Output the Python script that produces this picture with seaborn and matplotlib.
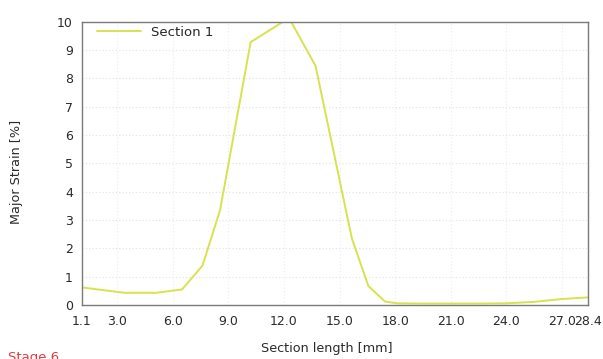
import matplotlib
matplotlib.use("Agg")
import matplotlib.pyplot as plt
import seaborn as sns
import pandas as pd

# Major strain profile along section 1
section_length = [1.1, 3.4, 5.1, 6.5, 7.6, 8.55, 10.2, 12.27, 13.7, 15.66,
                  16.55, 17.45, 18.1, 19.5, 21.0, 22.5, 24.0, 25.5, 27.0, 28.4]
major_strain = [0.62, 0.43, 0.43, 0.55, 1.39, 3.35, 9.28, 10.13, 8.44, 2.35,
                0.67, 0.12, 0.06, 0.05, 0.05, 0.05, 0.06, 0.11, 0.21, 0.27]
series_name = "Section 1"

x_ticks = [1.1, 3.0, 6.0, 9.0, 12.0, 15.0, 18.0, 21.0, 24.0, 27.0, 28.4]
x_tick_labels = ["1.1", "3.0", "6.0", "9.0", "12.0", "15.0", "18.0", "21.0", "24.0", "27.0", "28.4"]
y_ticks = list(range(0, 11))

df = pd.DataFrame({"Section length [mm]": section_length,
                   "Major Strain [%]": major_strain,
                   "series": series_name})

sns.set_theme(style="white")
plt.rcParams["font.family"] = ["DejaVu Sans"]

fig = plt.figure(figsize=(6.03, 3.59), dpi=100)
ax = fig.add_axes([82 / 603, 54 / 359, 506 / 603, 283.3 / 359])

sns.lineplot(data=df, x="Section length [mm]", y="Major Strain [%]", hue="series",
             palette=["#d8e24e"], linewidth=1.4, ax=ax, sort=False)

ax.set_xlim(1.1, 28.4)
ax.set_ylim(0, 10)
ax.set_xticks(x_ticks)
ax.set_xticklabels(x_tick_labels)
ax.set_yticks(y_ticks)

for v in y_ticks[1:]:
    ax.axhline(v, color="#e2e2e2", lw=0.8, ls=(0, (1, 2)), zorder=0)
for v in x_ticks[1:-1]:
    ax.axvline(v, color="#ececec", lw=0.8, ls=(0, (1, 2)), zorder=0)

for s in ax.spines.values():
    s.set_color("#7a7a7a")
    s.set_linewidth(1.0)

ax.tick_params(axis="both", direction="out", length=4, width=1, color="#555555",
               labelsize=9, labelcolor="#2a2a2a")
ax.tick_params(axis="x", pad=3.5)
ax.tick_params(axis="y", pad=2.5)

ax.set_xlabel("Section length [mm]", fontsize=9.2, color="#2a2a2a", va="top")
ax.xaxis.set_label_coords((327 - 82) / 506, (305 - 342) / 283.3)
ax.set_ylabel("Major Strain [%]", fontsize=9.2, color="#2a2a2a")
ax.yaxis.set_label_coords((23 - 82) / 506, (305 - 172) / 283.3)

leg = ax.legend(loc="upper left", frameon=False, fontsize=9.5, handlelength=3.3,
                borderaxespad=0.3, bbox_to_anchor=(0.012, 1.018))
for line in leg.get_lines():
    line.set_linewidth(1.4)

fig.text(8 / 603, 1 - 351 / 359, "Stage 6", color="#e03a3a", fontsize=9.5,
         ha="left", va="top")

fig.savefig("out.png", dpi=100)
